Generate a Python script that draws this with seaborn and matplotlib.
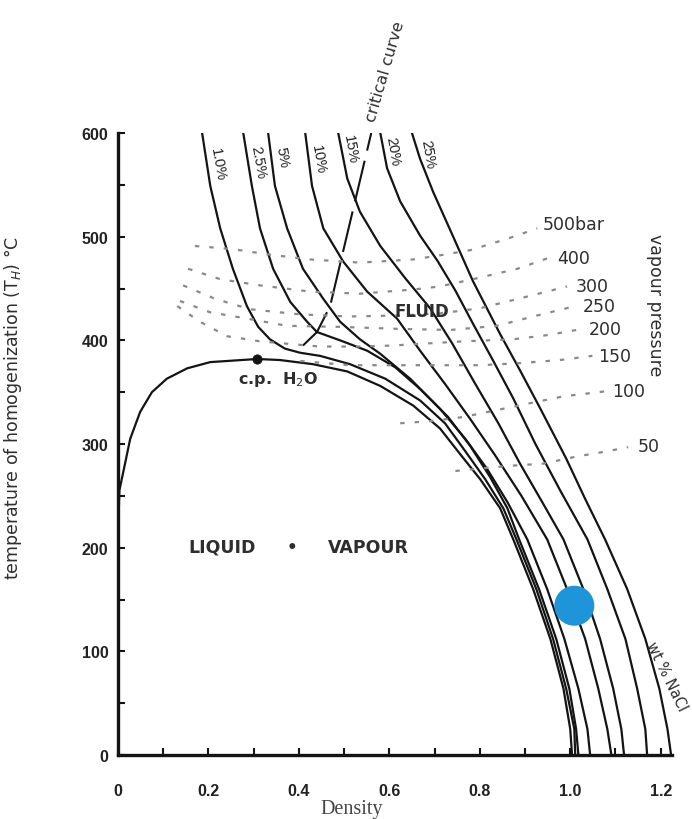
import matplotlib
matplotlib.use("Agg")
import matplotlib.pyplot as plt
import seaborn as sns
from matplotlib.ticker import MultipleLocator

sns.set_theme(style="ticks")
plt.rcParams['font.family'] = ['Liberation Sans', 'DejaVu Sans']

# ---------------- data (density g/cm3, temperature °C) ----------------
h2o_d = [0.0, 0.003, 0.027, 0.049, 0.075, 0.108, 0.153, 0.204, 0.308, 0.358, 0.431, 0.507,
         0.580, 0.653, 0.712, 0.757, 0.801, 0.845, 0.874, 0.918, 0.956, 0.985, 1.000, 1.004]
h2o_t = [210, 255, 305, 331, 350, 363, 373, 379, 382, 381, 377, 370,
         356, 337, 315, 290, 266, 238, 208, 160, 112, 64, 25, 0]

nacl_1_d = [0.186, 0.204, 0.226, 0.254, 0.285, 0.310, 0.336, 0.369, 0.403, 0.447, 0.513, 0.591,
            0.668, 0.723, 0.768, 0.812, 0.852, 0.881, 0.925, 0.962, 0.991, 1.009, 1.011]
nacl_1_t = [600, 549, 508, 469, 433, 413, 401, 392, 388, 385, 377, 363,
            342, 320, 293, 266, 238, 208, 160, 112, 64, 25, 0]

nacl_2_5_d = [0.277, 0.296, 0.314, 0.343, 0.381, 0.418, 0.440, 0.491, 0.551, 0.613, 0.668,
              0.730, 0.779, 0.823, 0.861, 0.887, 0.931, 0.969, 0.998, 1.013, 1.018]
nacl_2_5_t = [600, 549, 508, 469, 437, 418, 408, 400, 390, 374, 353,
              326, 298, 268, 238, 208, 160, 112, 64, 25, 0]

nacl_5_d = [0.332, 0.347, 0.374, 0.409, 0.454, 0.491, 0.535, 0.580, 0.646, 0.712, 0.768,
            0.816, 0.861, 0.905, 0.949, 0.987, 1.018, 1.038, 1.044]
nacl_5_t = [600, 549, 508, 469, 440, 418, 401, 387, 363, 334, 305,
            276, 244, 208, 160, 112, 64, 25, 0]

nacl_10_d = [0.414, 0.429, 0.454, 0.498, 0.551, 0.617, 0.668, 0.723, 0.779, 0.834, 0.892,
             0.949, 0.993, 1.033, 1.062, 1.082, 1.091]
nacl_10_t = [600, 549, 508, 476, 447, 421, 390, 358, 324, 289, 250,
             208, 160, 112, 64, 25, 0]

nacl_15_d = [0.487, 0.507, 0.535, 0.580, 0.635, 0.690, 0.739, 0.790, 0.841, 0.889, 0.938,
             0.985, 1.029, 1.066, 1.095, 1.113, 1.119]
nacl_15_t = [600, 556, 524, 491, 460, 431, 397, 358, 320, 281, 244,
             208, 160, 112, 64, 25, 0]

nacl_20_d = [0.580, 0.595, 0.624, 0.668, 0.706, 0.746, 0.785, 0.830, 0.874, 0.923, 0.978,
             1.038, 1.082, 1.122, 1.148, 1.166, 1.170]
nacl_20_t = [600, 566, 534, 501, 477, 448, 416, 380, 344, 300, 255,
             208, 160, 112, 64, 25, 0]

nacl_25_d = [0.650, 0.668, 0.697, 0.735, 0.785, 0.845, 0.889, 0.934, 0.991, 1.033, 1.077,
             1.126, 1.166, 1.197, 1.215, 1.223]
nacl_25_t = [600, 575, 543, 506, 457, 406, 371, 334, 286, 247, 208,
             160, 112, 64, 25, 0]

salinity_labels = ["1.0%", "2.5%", "5%", "10%", "15%", "20%", "25%"]
salinity_label_d = [0.221, 0.310, 0.363, 0.442, 0.513, 0.608, 0.684]
salinity_label_t = [570, 572, 577, 575, 585, 583, 580]

critical_d = [0.409, 0.440, 0.469, 0.560]
critical_t = [395, 408, 433, 600]

bar500_d = [0.170, 0.254, 0.330, 0.425, 0.535, 0.653, 0.712, 0.779, 0.861, 0.927]
bar500_t = [491, 488, 483, 478, 475, 478, 482, 487, 498, 508]
bar400_d = [0.155, 0.226, 0.314, 0.425, 0.535, 0.653, 0.712, 0.785, 0.883, 0.949]
bar400_t = [469, 459, 453, 447, 445, 449, 452, 459, 469, 479]
bar300_d = [0.144, 0.215, 0.292, 0.403, 0.513, 0.624, 0.712, 0.801, 0.912, 0.993]
bar300_t = [453, 440, 430, 425, 423, 424, 426, 431, 443, 452]
bar250_d = [0.137, 0.204, 0.285, 0.374, 0.491, 0.624, 0.735, 0.838, 0.927, 1.011]
bar250_t = [438, 427, 421, 414, 413, 411, 410, 414, 424, 433]
bar200_d = [0.131, 0.181, 0.241, 0.314, 0.447, 0.529, 0.608, 0.684, 0.763, 0.874, 0.949, 1.027]
bar200_t = [433, 418, 404, 399, 394, 394, 395, 397, 399, 401, 405, 411]
bar150_d = [0.403, 0.513, 0.624, 0.712, 0.801, 0.889, 0.978, 1.049]
bar150_t = [380, 376, 376, 376, 376, 378, 381, 385]
bar100_d = [0.624, 0.690, 0.763, 0.874, 0.985, 1.082]
bar100_t = [320, 322, 326, 336, 346, 351]
bar50_d = [0.746, 0.794, 0.867, 0.940, 1.015, 1.082, 1.128]
bar50_t = [274, 276, 279, 281, 288, 293, 297]

isobar_labels = ["500bar", "400", "300", "250", "200", "150", "100", "50"]
isobar_label_d = [0.940, 0.971, 1.011, 1.027, 1.040, 1.062, 1.093, 1.150]
isobar_label_t = [512, 479, 452, 433, 411, 385, 351, 298]

cp_d, cp_t = [0.308], [382]
marker_d, marker_t = [1.009], [144]

x_ticks = [0, 0.2, 0.4, 0.6, 0.8, 1.0, 1.2]
x_tick_labels = ["0", "0.2", "0.4", "0.6", "0.8", "1.0", "1.2"]
y_ticks = [0, 100, 200, 300, 400, 500, 600]

# ---------------- figure ----------------
fig = plt.figure(figsize=(6.92, 8.2), dpi=100)
ax = fig.add_axes([118 / 692, 1 - 756 / 820, 554 / 692, 622 / 820])

ink = "#141414"
txt = "#2e2e2e"
curves = [(h2o_d, h2o_t), (nacl_1_d, nacl_1_t), (nacl_2_5_d, nacl_2_5_t), (nacl_5_d, nacl_5_t),
          (nacl_10_d, nacl_10_t), (nacl_15_d, nacl_15_t), (nacl_20_d, nacl_20_t),
          (nacl_25_d, nacl_25_t)]
for d, t in curves:
    sns.lineplot(x=d, y=t, sort=False, estimator=None, color=ink, linewidth=1.6, ax=ax)

sns.lineplot(x=critical_d, y=critical_t, sort=False, estimator=None, color=ink,
             linewidth=1.5, linestyle=(0, (20, 5)), ax=ax)

isobars = [(bar500_d, bar500_t), (bar400_d, bar400_t), (bar300_d, bar300_t),
           (bar250_d, bar250_t), (bar200_d, bar200_t), (bar150_d, bar150_t),
           (bar100_d, bar100_t), (bar50_d, bar50_t)]
for d, t in isobars:
    sns.lineplot(x=d, y=t, sort=False, estimator=None, color="#8a8a8a",
                 linewidth=1.6, linestyle=(0, (2, 4.5)), ax=ax)

sns.scatterplot(x=cp_d, y=cp_t, s=45, color=ink, edgecolor=ink, ax=ax, zorder=5)
sns.scatterplot(x=marker_d, y=marker_t, s=830, color="#1e95d8", edgecolor="none",
                ax=ax, zorder=6)

# text
for lab, d, t in zip(salinity_labels, salinity_label_d, salinity_label_t):
    ax.text(d, t, lab, rotation=-80, ha="center", va="center", fontsize=10.5,
            color="#222222", rotation_mode="anchor")
for lab, d, t in zip(isobar_labels, isobar_label_d, isobar_label_t):
    ax.text(d, t, lab, ha="left", va="center", fontsize=12.5, color=txt,
            family="DejaVu Sans", clip_on=False)

ax.text(0.591, 660, "critical curve", rotation=73.7, ha="center", va="center",
        fontsize=11.5, color=txt, family="DejaVu Sans", rotation_mode="anchor", clip_on=False)
ax.text(1.188, 435, "vapour pressure", rotation=-90, ha="center", va="center",
        fontsize=12.5, color=txt, family="DejaVu Sans", clip_on=False)
ax.text(1.212, 76, "wt % NaCl", rotation=-64, ha="center", va="center",
        fontsize=10.5, color=txt, family="DejaVu Sans", rotation_mode="anchor", clip_on=False)
ax.text(0.673, 428, "FLUID", ha="center", va="center", fontsize=12,
        fontweight="bold", family="DejaVu Sans", color=txt)
ax.text(0.354, 363, "c.p.  H$_2$O", ha="center", va="center", fontsize=11.5,
        fontweight="bold", family="DejaVu Sans", color=txt)
ax.text(0.230, 201, "LIQUID", ha="center", va="center", fontsize=12.5,
        fontweight="bold", family="DejaVu Sans", color=txt)
ax.text(0.385, 201, "\u2022", ha="center", va="center", fontsize=12,
        fontweight="bold", family="DejaVu Sans", color=txt)
ax.text(0.553, 201, "VAPOUR", ha="center", va="center", fontsize=12.5,
        fontweight="bold", family="DejaVu Sans", color=txt)

# axes styling
ax.set_xlim(0, 1.225)
ax.set_ylim(0, 600)
sns.despine(ax=ax)
for s in ["left", "bottom"]:
    ax.spines[s].set_linewidth(2.4)
    ax.spines[s].set_color(ink)
ax.set_xticks(x_ticks)
ax.set_xticklabels(x_tick_labels)
ax.set_yticks(y_ticks)
ax.xaxis.set_minor_locator(MultipleLocator(0.1))
ax.yaxis.set_minor_locator(MultipleLocator(50))
ax.tick_params(axis="both", which="both", direction="in", length=5, width=1.5, color=ink)
ax.tick_params(axis="x", which="major", pad=20, labelsize=11.5, labelcolor="#222222")
ax.tick_params(axis="y", which="major", pad=7, labelsize=11.5, labelcolor="#222222")
for lab in ax.get_xticklabels() + ax.get_yticklabels():
    lab.set_fontweight("bold")

ax.set_xlabel("Density", fontsize=14.5, family="Liberation Serif", color="#444444")
ax.xaxis.set_label_coords(0.422, -0.071)
ax.set_ylabel("temperature of homogenization (T$_H$) \u00b0C", fontsize=12.5,
              family="DejaVu Sans", color=txt)
ax.yaxis.set_label_coords(-0.17, 0.56)
ax.grid(False)

fig.savefig("out.png", dpi=100)
